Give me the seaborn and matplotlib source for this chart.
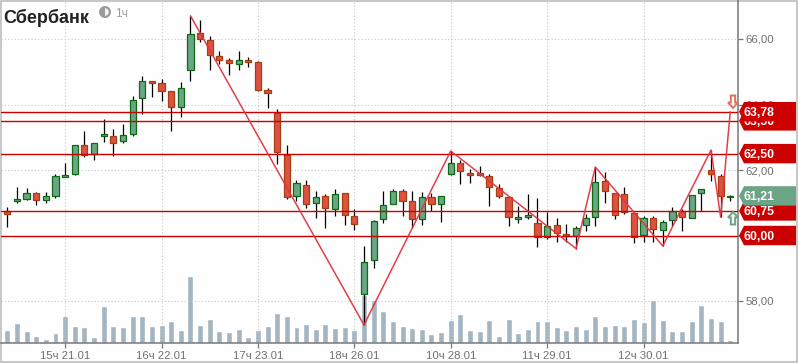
import numpy as np
import pandas as pd
import seaborn as sns
import matplotlib
matplotlib.use("Agg")
import matplotlib.pyplot as plt
from matplotlib.patches import Circle, Polygon, Rectangle, Wedge
from matplotlib.transforms import Affine2D, IdentityTransform

# Values
opens = [60.74, 61.06, 61.12, 61.29, 61.09, 61.21, 61.80, 61.89, 62.75, 62.50,
         63.05, 63.03, 62.89, 63.09, 64.19, 64.72, 64.65, 64.40, 63.91, 65.04,
         66.17, 65.96, 65.47, 65.35, 65.25, 65.35, 65.29, 64.43, 63.75, 62.47,
         61.21, 61.53, 61.00, 61.20, 60.82, 61.29, 60.59, 58.22, 59.24, 60.49,
         60.95, 61.35, 61.04, 60.49, 61.17, 60.97, 61.87, 62.20, 61.90, 61.90,
         61.81, 61.44, 61.17, 60.51, 60.57, 60.37, 59.95, 60.31, 60.04, 60.00,
         60.31, 60.56, 61.65, 61.29, 61.26, 60.68, 60.01, 60.53, 60.16, 60.46,
         60.74, 60.53, 61.29, 62.00, 61.81, 61.17]
closes = [60.67, 61.10, 61.29, 61.09, 61.20, 61.81, 61.85, 62.75, 62.47, 62.82,
          63.09, 62.83, 63.06, 64.13, 64.71, 64.67, 64.42, 63.91, 64.49, 66.14,
          66.01, 65.50, 65.37, 65.28, 65.35, 65.31, 64.44, 64.36, 62.56, 61.18,
          61.59, 60.97, 61.17, 60.85, 61.26, 60.63, 60.36, 59.18, 60.43, 60.92,
          61.35, 61.06, 60.49, 61.17, 60.97, 61.20, 62.20, 61.96, 61.86, 61.86,
          61.47, 61.21, 60.56, 60.56, 60.62, 59.95, 60.28, 60.09, 59.98, 60.22,
          60.53, 61.62, 61.35, 60.62, 60.71, 59.95, 60.53, 60.19, 60.40, 60.74,
          60.56, 61.23, 61.41, 61.87, 61.21, 61.20]
highs = [60.86, 61.47, 61.44, 61.32, 61.32, 61.88, 62.20, 62.75, 63.19, 62.82,
         63.56, 63.25, 63.40, 64.25, 64.87, 64.72, 64.78, 64.40, 64.69, 66.71,
         66.58, 66.08, 65.62, 65.42, 65.62, 65.44, 65.32, 64.50, 63.86, 62.76,
         61.69, 61.69, 61.36, 61.27, 61.42, 61.29, 60.81, 59.68, 60.47, 61.36,
         61.42, 61.42, 61.36, 61.32, 61.30, 61.20, 62.58, 62.31, 62.02, 62.12,
         61.87, 61.57, 61.17, 60.90, 61.27, 61.14, 60.72, 60.53, 60.35, 60.29,
         60.66, 62.09, 61.94, 61.29, 61.47, 60.68, 60.60, 60.60, 60.47, 60.87,
         60.81, 61.23, 61.41, 62.61, 61.88, 61.23]
lows = [60.27, 61.00, 61.08, 60.93, 61.00, 61.15, 61.79, 61.85, 62.41, 62.31,
        62.85, 62.44, 62.83, 63.03, 63.71, 64.23, 64.11, 63.19, 63.62, 64.72,
        65.92, 65.06, 65.24, 64.90, 65.06, 65.15, 64.41, 63.89, 62.18, 61.11,
        61.05, 60.84, 60.53, 60.23, 60.60, 60.32, 60.17, 57.27, 59.02, 60.38,
        60.95, 60.60, 60.23, 60.32, 60.75, 60.41, 61.84, 61.57, 61.60, 61.81,
        60.90, 61.14, 60.29, 60.38, 60.50, 59.66, 59.88, 59.80, 59.80, 59.60,
        60.14, 60.29, 61.00, 60.50, 60.65, 59.77, 59.80, 59.80, 59.68, 60.29,
        60.14, 60.53, 60.75, 61.66, 60.56, 61.05]
volumes = [13, 20, 12, 7, 4, 10, 27, 17, 16, 6,
           37, 17, 16, 27, 27, 17, 18, 22, 13, 67,
           18, 24, 12, 11, 14, 6, 13, 17, 30, 27,
           16, 19, 14, 19, 15, 16, 13, 48, 43, 32,
           22, 17, 15, 14, 9, 11, 23, 29, 13, 12,
           23, 7, 24, 10, 14, 22, 22, 16, 13, 17,
           14, 27, 17, 18, 17, 24, 21, 43, 23, 12,
           12, 22, 38, 25, 22, 3]

zigzag_idx = [19, 37, 46, 59, 61, 68, 73, 74, 75]
zigzag_price = [66.71, 57.27, 62.58, 59.60, 62.09, 59.68, 62.61, 60.56, 63.78]

level_prices = [63.50, 63.78, 62.50, 60.75, 60.00]
level_labels = ["63,50", "63,78", "62,50", "60,75", "60,00"]
last_price = 61.21
last_label = "61,21"

x_ticks = [6, 16, 26, 36, 46, 56, 66]
x_labels = ["15ч 21.01", "16ч 22.01", "17ч 23.01", "18ч 26.01",
            "10ч 28.01", "11ч 29.01", "12ч 30.01"]
y_ticks = [58, 60, 62, 64, 66]
y_labels = ["58,00", "60,00", "62,00", "64,00", "66,00"]

GREEN_FILL = "#6ca586"
GREEN_EDGE = "#0b6b14"
RED_FILL = "#dc5240"
RED_EDGE = "#a83c12"
LEVEL_RED = "#cc0000"
AXIS_GRAY = "#777777"
TEXT_GRAY = "#707070"

sns.set_theme(style="white")
plt.rcParams["font.family"] = ["Liberation Sans", "DejaVu Sans"]

W, H = 798, 363
fig = plt.figure(figsize=(W / 100, H / 100), dpi=100, facecolor="#fefefe")
ax = fig.add_axes([1 / W, (H - 343) / H, 737 / W, 343 / H])
ax_vol = ax.twinx()
ax.set_zorder(ax_vol.get_zorder() + 1)
ax.patch.set_visible(False)

# Volume bars along the bottom
df_vol = pd.DataFrame({"bar": np.arange(len(volumes)), "volume": volumes})
sns.barplot(data=df_vol, x="bar", y="volume", ax=ax_vol, native_scale=True,
            color="#a3b5c2", saturation=1, width=0.62)
ax_vol.set_ylim(0, 343)
ax_vol.set_axis_off()

# Grid
ax.set_axisbelow(True)
ax.grid(True, color="#c8c8c8", lw=0.8, linestyle=(0, (1, 2)))

# Candles
bars = np.arange(len(opens))
o = np.array(opens)
c = np.array(closes)
up = c >= o
ax.vlines(bars, lows, highs, color="black", lw=0.9, zorder=3)
ax.bar(bars, np.abs(c - o), bottom=np.minimum(o, c), width=0.64,
       color=[GREEN_FILL if u else RED_FILL for u in up],
       edgecolor=[GREEN_EDGE if u else RED_EDGE for u in up],
       linewidth=0.9, zorder=4)

# Support / resistance levels and the zigzag
for p in level_prices:
    ax.axhline(p, color=LEVEL_RED, lw=1.0, zorder=5)
sns.lineplot(x=zigzag_idx, y=zigzag_price, sort=False, estimator=None, ax=ax,
             color="#e23540", lw=1.1, alpha=0.95, zorder=6)

ax.set_xlim(-0.653, 75.8)
ax.set_ylim(66 - (343 - 39) / 32.75, 66 + 39 / 32.75)
ax.set_xlabel("")
ax.set_ylabel("")
ax.set_xticks(x_ticks, x_labels)
ax.set_yticks(y_ticks, y_labels)
ax.yaxis.tick_right()
ax.tick_params(axis="both", length=3.6, width=0.9, color=AXIS_GRAY, pad=2,
               labelsize=8.2, labelcolor=TEXT_GRAY, bottom=True, right=True)
for name, spine in ax.spines.items():
    spine.set_visible(name in ("right", "bottom"))
    spine.set_color(AXIS_GRAY)
    spine.set_linewidth(1.1)

tag_layer = [10]


def price_tag(price, label, fill):
    # tags are placed in pixels, anchored on the price level
    y0 = ax.transData.transform((0, price))[1]
    tf = Affine2D().translate(0, y0)
    pts = [(739, 0), (744, 9.7), (796, 9.7), (796, -9.7), (744, -9.7)]
    z = tag_layer[0]
    ax.add_patch(Polygon(pts, closed=True, facecolor=fill, edgecolor="none",
                         transform=tf, clip_on=False, zorder=z))
    ax.text(744, 0, label, transform=tf, color="white", fontsize=8.8,
            fontweight="bold", va="center_baseline", ha="left", clip_on=False,
            zorder=z + 1)
    tag_layer[0] += 2


for p, lab in zip(level_prices, level_labels):
    price_tag(p, lab, LEVEL_RED)
price_tag(last_price, last_label, GREEN_FILL)


def arrow(cx, tip_y, direction, color):
    # direction: 1 points up, -1 points down; sizes in pixels
    tf = Affine2D().translate(cx, H - tip_y)
    d = -direction
    pts = [(0, 0), (5, 5.5 * d), (2.2, 5.5 * d), (2.2, 12.5 * d),
           (-2.2, 12.5 * d), (-2.2, 5.5 * d), (-5, 5.5 * d)]
    ax.add_patch(Polygon(pts, closed=True, facecolor="#f4f4f4", edgecolor=color,
                         lw=1.4, transform=tf, clip_on=False, zorder=9))


arrow(733, 108, -1, "#e2705e")
arrow(733, 212, 1, GREEN_FILL)

# Header
id_tf = IdentityTransform()
fig.text(3 / W, 1 - 15.5 / H, "Сбербанк", fontsize=13, fontweight="bold",
         color="#222222", va="center_baseline", ha="left")
fig.add_artist(Circle((105, H - 12), 6, facecolor="#9a9a9a", edgecolor="none",
                      transform=id_tf))
fig.add_artist(Wedge((105, H - 12), 3.8, -90, 90, facecolor="#f4f4f4",
                     edgecolor="none", transform=id_tf))
fig.text(115 / W, 1 - 12.5 / H, "1ч", fontsize=8.6, color="#a0a0a0",
         va="center_baseline", ha="left")

# Outer frame
fig.add_artist(Rectangle((0.75, 0.75), W - 1.5, H - 1.5, fill=False,
                         edgecolor="#b8b8b8", lw=1.1, transform=id_tf))

fig.savefig("out.png", dpi=100, facecolor=fig.get_facecolor())
